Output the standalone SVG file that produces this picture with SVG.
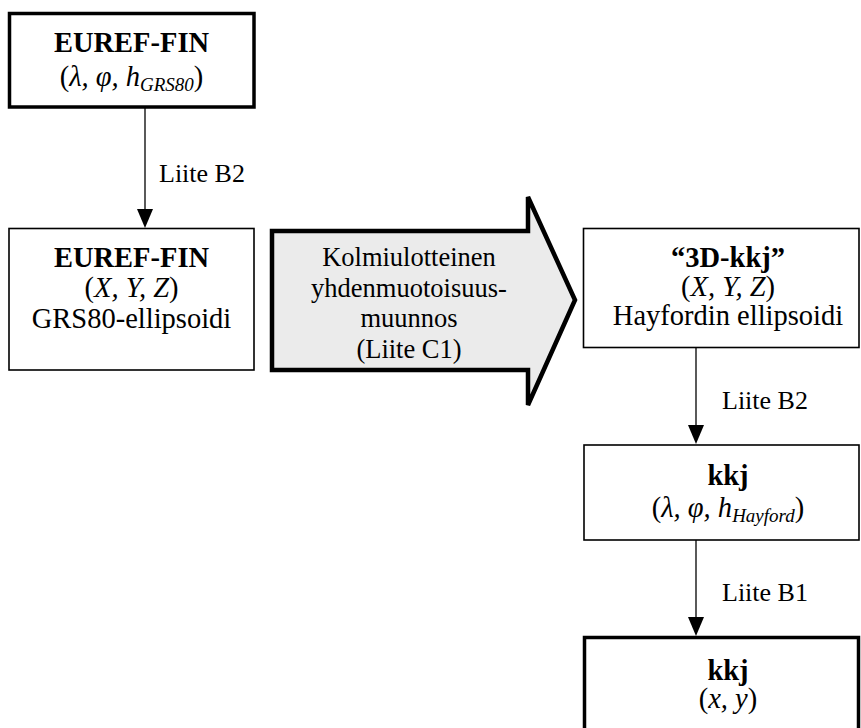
<svg xmlns="http://www.w3.org/2000/svg" width="861" height="728" viewBox="0 0 861 728">
<style>
text{font-family:"Liberation Serif","Times New Roman",serif;fill:#000}
.t{font-size:28.5px;text-anchor:middle}
.b{font-weight:bold}
.i{font-style:italic}
.sub{font-size:19px;font-style:italic}
.lbl{font-size:26px}
.arw{font-size:26.5px;text-anchor:middle}
.thick{fill:#fff;stroke:#000;stroke-width:3.5}
.thin{fill:#fff;stroke:#000;stroke-width:1.6}
.conn{stroke:#000;stroke-width:1.3;fill:none}
.head{fill:#000}
</style>
<g id="connectors">
<line class="conn" x1="145" y1="108" x2="145" y2="212"/>
<path class="head" d="M137,209 L153,209 L145,228 Z"/>
<line class="conn" x1="696" y1="348" x2="696" y2="427"/>
<path class="head" d="M688,425 L704,425 L696,444 Z"/>
<line class="conn" x1="696" y1="540" x2="696" y2="619"/>
<path class="head" d="M688,617 L704,617 L696,636 Z"/>
<text class="lbl" x="159" y="182">Liite B2</text>
<text class="lbl" x="722" y="409">Liite B2</text>
<text class="lbl" x="722" y="601">Liite B1</text>
</g>
<g id="n1">
<rect class="thick" x="9.5" y="13.5" width="244.5" height="93.5"/>
<text class="t b" x="131.5" y="52">EUREF-FIN</text>
<text class="t" x="131.5" y="86">(<tspan class="i">λ, φ, h</tspan><tspan class="sub" dy="5">GRS80</tspan><tspan dy="-5">)</tspan></text>
</g>
<g id="n2">
<rect class="thin" x="9" y="228.5" width="245" height="141.5"/>
<text class="t b" x="131.5" y="267">EUREF-FIN</text>
<text class="t" x="131.5" y="297">(<tspan class="i">X, Y, Z</tspan>)</text>
<text class="t" x="131.5" y="328">GRS80-ellipsoidi</text>
</g>
<g id="n3">
<polygon points="272,231 528,231 528,197 575,300 528,405 528,370 272,370" fill="#ebebeb" stroke="#000" stroke-width="4.5" stroke-linejoin="miter"/>
<text class="arw" x="409" y="266">Kolmiulotteinen</text>
<text class="arw" x="409" y="296.5">yhdenmuotoisuus-</text>
<text class="arw" x="409" y="327">muunnos</text>
<text class="arw" x="409" y="357.5">(Liite C1)</text>
</g>
<g id="n4">
<rect class="thin" x="583.5" y="228.5" width="275.5" height="119"/>
<text class="t b" x="728" y="267">“3D-kkj”</text>
<text class="t" x="728" y="296">(<tspan class="i">X, Y, Z</tspan>)</text>
<text class="t" x="728" y="325">Hayfordin ellipsoidi</text>
</g>
<g id="n5">
<rect class="thin" x="584" y="445" width="275" height="95"/>
<text class="t b" x="728" y="485">kkj</text>
<text class="t" x="728" y="517">(<tspan class="i">λ, φ, h</tspan><tspan class="sub" dy="5">Hayford</tspan><tspan dy="-5">)</tspan></text>
</g>
<g id="n6">
<rect class="thick" x="584.5" y="637.5" width="274" height="110"/>
<text class="t b" x="728" y="680">kkj</text>
<text class="t" x="728" y="708">(<tspan class="i">x, y</tspan>)</text>
</g>
</svg>
